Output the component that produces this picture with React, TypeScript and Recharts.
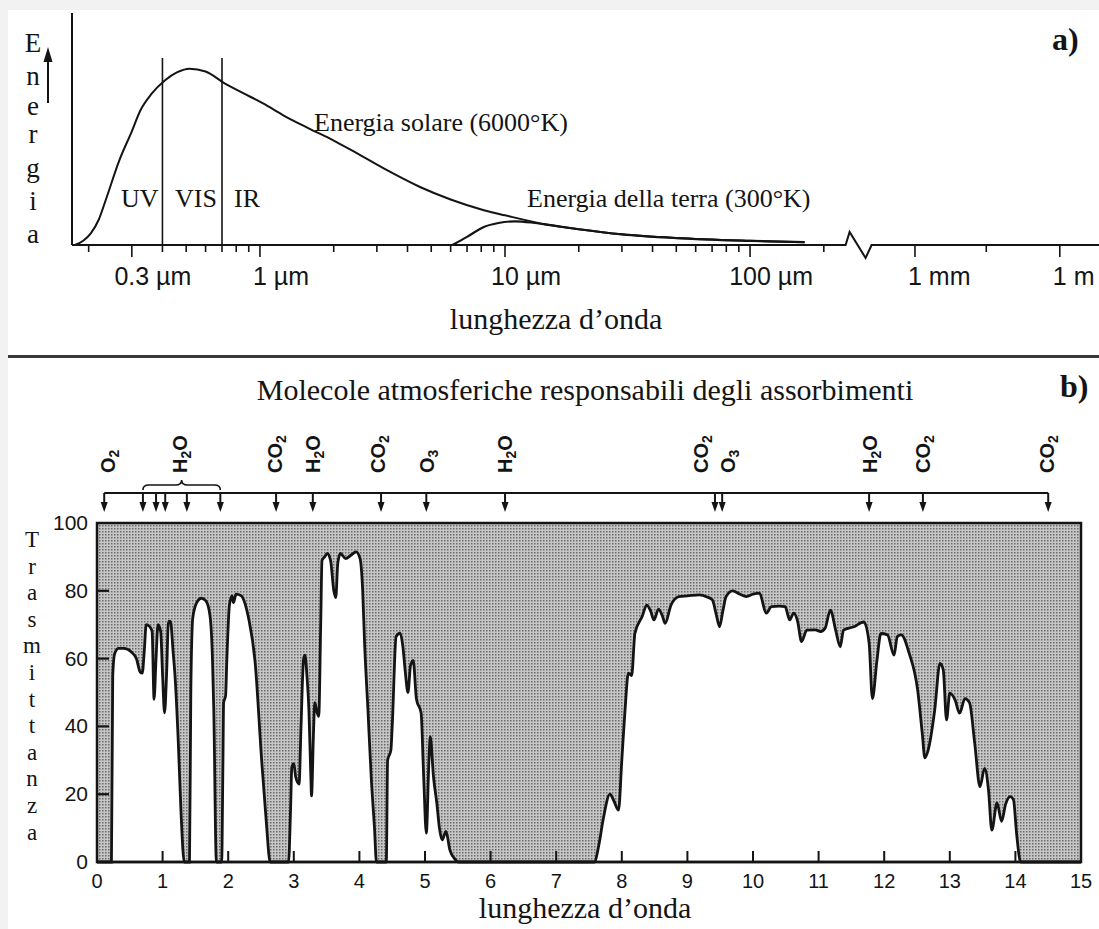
import React from 'react'
import {
  ComposedChart,
  Line,
  Area,
  XAxis,
  YAxis,
  CartesianGrid,
  ReferenceLine,
  ReferenceDot,
  ReferenceArea,
} from 'recharts'

// ---------- pannello a) : lunghezza d'onda in µm, energia in unità relative
const solarLambda = [0.176, 0.19, 0.204, 0.22, 0.235, 0.267, 0.3, 0.325, 0.36, 0.41, 0.46, 0.516, 0.6, 0.717, 0.85, 1.03, 1.25, 1.58, 2.0, 2.35, 3.2, 4.5, 6.0, 8.2, 10, 15, 20, 30, 50, 100, 167]
const solarEnergy = [0, 1.8, 5, 11, 19.5, 36.6, 49, 58, 65, 71, 74.5, 76, 74.8, 69.7, 65.6, 61, 55.8, 50.3, 45, 41, 33, 25, 19.6, 15, 12.8, 8.7, 6.8, 4.6, 3, 1.8, 1.2]
const earthLambda = [6.1, 7, 8.2, 9.4, 11, 13, 15, 20, 30, 50, 100, 167]
const earthEnergy = [0, 3.5, 7.8, 9.5, 10.2, 9.6, 8.7, 6.8, 4.6, 3, 1.8, 1.2]

const bandLimits = [0.4, 0.7] // UV|VIS e VIS|IR
const bandTop = 80.6
const majorTicks = [0.3, 1, 10, 100, 1000, 1000000]
const majorLabels = ['0.3 µm', '1 µm', '10 µm', '100 µm', '1 mm', '1 m']
const majorNumerals = ['0.3', '1', '10', '100', '1', '1']
const minorTicks = [0.2, 0.4, 0.5, 0.6, 0.7, 0.8, 0.9, 2, 3, 4, 5, 6, 7, 8, 9, 20, 30, 40, 50, 60, 70, 80, 90, 200, 30000]

// ---------- pannello b) : trasmittanza (%) in funzione della lunghezza d'onda (µm)
const transWl = [
  0, 0.2, 0.22, 0.24, 0.27, 0.33, 0.41, 0.52, 0.6, 0.66, 0.69, 0.72, 0.75, 0.8, 0.84, 0.87, 0.9, 0.93, 0.97, 1.0,
  1.03, 1.06, 1.09, 1.12, 1.16, 1.19, 1.24, 1.28, 1.33, 1.41, 1.43, 1.46, 1.52, 1.59, 1.66, 1.72, 1.76, 1.78, 1.82, 1.9,
  1.92, 1.93, 1.96, 1.98, 2.02, 2.06, 2.08, 2.12, 2.2, 2.26, 2.31, 2.41, 2.51, 2.58, 2.64, 2.92, 2.95, 2.97, 3.0, 3.03,
  3.08, 3.11, 3.15, 3.17, 3.2, 3.23, 3.26, 3.27, 3.3, 3.32, 3.35, 3.38, 3.41, 3.43, 3.47, 3.51, 3.56, 3.61, 3.64, 3.67,
  3.71, 3.79, 3.87, 3.95, 4.01, 4.05, 4.08, 4.13, 4.18, 4.23, 4.26, 4.41, 4.43, 4.48, 4.5, 4.56, 4.62, 4.66, 4.7, 4.74,
  4.78, 4.82, 4.87, 4.94, 4.98, 5.02, 5.06, 5.08, 5.13, 5.18, 5.22, 5.26, 5.32, 5.38, 5.45, 5.51, 7.58, 7.65, 7.72, 7.82,
  7.88, 7.95, 8.0, 8.05, 8.1, 8.15, 8.2, 8.31, 8.38, 8.44, 8.49, 8.56, 8.62, 8.66, 8.75, 8.87, 9.0, 9.18, 9.3, 9.38,
  9.44, 9.49, 9.54, 9.59, 9.69, 9.8, 9.9, 10.0, 10.1, 10.2, 10.28, 10.4, 10.49, 10.56, 10.62, 10.68, 10.74, 10.82, 10.95, 11.03,
  11.1, 11.18, 11.26, 11.33, 11.38, 11.54, 11.69, 11.77, 11.82, 11.89, 11.95, 12.05, 12.15, 12.2, 12.26, 12.38, 12.51, 12.58, 12.62, 12.67,
  12.77, 12.85, 12.9, 12.95, 13.0, 13.08, 13.15, 13.23, 13.3, 13.38, 13.46, 13.53, 13.59, 13.64, 13.72, 13.79, 13.85, 13.92, 13.97, 14.02,
  14.08, 15,
]
const transVal = [
  0, 0, 0, 55, 61.5, 63, 63, 62, 60, 56, 55.7, 62, 70, 69.5, 68, 48, 60, 70, 68, 55,
  44, 55, 71, 71, 62, 54.7, 35, 15, 0, 0, 50, 72, 76.5, 77.8, 77, 73, 60, 45, 0, 0,
  30, 47, 49, 60, 76, 78.5, 76.5, 79, 78.5, 76, 72, 59, 30, 12, 0, 0, 15, 28, 29, 25,
  23, 40, 60, 61, 55, 45, 25, 19.5, 38, 47, 44.5, 43, 70, 89, 90, 91, 89, 80, 78, 88,
  91, 89.5, 90.5, 91.5, 89.5, 80, 64, 45, 25, 10, 0, 0, 30, 33, 40, 66.5, 67.5, 64, 56, 50,
  58, 59.5, 48, 44, 25, 8.5, 30, 37, 25, 17.4, 10, 6.5, 9, 3.5, 1, 0, 0, 5, 13, 20,
  18, 15.3, 30, 45, 55.7, 55, 67.5, 72.4, 75.8, 74, 71.4, 74.6, 72.5, 70.4, 75.8, 78.3, 78.5, 78.8, 78.2, 77.3,
  73, 69.4, 74, 78.3, 80, 79, 78.3, 79, 79.3, 73.4, 75.3, 75.5, 75.3, 71.4, 73.4, 71, 65, 68.4, 68.5, 68,
  69, 74.3, 68.4, 63.5, 68.4, 69.4, 70.8, 64.6, 48.2, 59.6, 67.4, 67, 61, 66.5, 67, 61.6, 50.7, 38, 30.7, 33,
  44.8, 58.6, 56.7, 41.9, 49.8, 47.8, 43.9, 48.2, 47, 35, 22.2, 27.6, 21.2, 9.4, 17.4, 12, 17, 19.3, 18.4, 8,
  0, 0,
]

const arrowWl = [0.11, 0.7, 0.9, 1.04, 1.37, 1.88, 2.73, 3.29, 4.33, 5.02, 6.22, 9.42, 9.53, 11.77, 12.59, 14.5]
const moleculeWl = [0.17, 1.27, 2.71, 3.29, 4.28, 5.03, 6.22, 9.21, 9.62, 11.78, 12.59, 14.48]
const moleculeName = ['O2', 'H2O', 'CO2', 'H2O', 'CO2', 'O3', 'H2O', 'CO2', 'O3', 'H2O', 'CO2', 'CO2']
const waterBand = [0.7, 1.88]
const transTicksY = [0, 20, 40, 60, 80, 100]
const transTicksX = [0, 1, 2, 3, 4, 5, 6, 7, 8, 9, 10, 11, 12, 13, 14, 15]

const SERIF = '"Liberation Serif", "DejaVu Serif", serif'
const SANS = '"Liberation Sans", Arial, sans-serif'
const INK = '#141414'

// asse logaritmico con interruzione dopo ~300 µm (la parte mm-m è compressa)
const POS_MIN = -0.767
const POS_MAX = 3.424
const BREAK_POS = 2.443
const BREAK_HALF = 0.05
function toPos(um: number) {
  const l = Math.log10(um)
  return um <= 300 ? l : 2.673 + (l - 3) * 0.197
}

const solarData = solarLambda.map((l, i) => ({ pos: toPos(l), e: solarEnergy[i] }))
const earthData = earthLambda.map((l, i) => ({ pos: toPos(l), e: earthEnergy[i] }))
const majorPos = majorTicks.map(toPos)
const allTickPos = [...majorPos, ...minorTicks.map(toPos)]

const transData = transWl.map((w, i) => ({ w, t: transVal[i] }))

function EnergyTick(props: any) {
  const { x, y, payload } = props
  const idx = majorPos.findIndex(p => Math.abs(p - payload.value) < 1e-6)
  const major = idx >= 0
  const numW = major ? majorNumerals[idx].replace('.', '').length * 13.9 + (majorNumerals[idx].includes('.') ? 7 : 0) : 0
  return (
    <g>
      <line x1={x} x2={x} y1={y} y2={y + (major ? 12 : 7)} stroke={INK} strokeWidth={1.6} />
      {major && (
        <text x={x - numW / 2} y={y + 40} fontFamily={SANS} fontSize={25} fill={INK} textAnchor="start">
          {majorLabels[idx]}
        </text>
      )}
    </g>
  )
}

function WlTick(props: any) {
  const { x, y, payload } = props
  const v = payload.value
  return (
    <g>
      {v > 0 && v < 15 && <line x1={x} x2={x} y1={y} y2={y - 11} stroke={INK} strokeWidth={2} />}
      <text x={x} y={y + 26} fontFamily={SANS} fontSize={20} fill={INK} textAnchor="middle">
        {v}
      </text>
    </g>
  )
}

function TLeftTick(props: any) {
  const { x, y, payload } = props
  const v = payload.value
  return (
    <g>
      {v > 0 && v < 100 && <line x1={x} x2={x + 12} y1={y} y2={y} stroke={INK} strokeWidth={2.2} />}
      <text x={x - 9} y={y + 7} fontFamily={SANS} fontSize={21} fill={INK} textAnchor="end">
        {v}
      </text>
    </g>
  )
}

function TRightTick(props: any) {
  const { x, y } = props
  return <line x1={x} x2={x - 9} y1={y} y2={y} stroke={INK} strokeWidth={2.2} />
}

function Formula({ name, x, y }: { name: string; x: number; y: number }) {
  const parts = name.split(/(\d)/).filter(Boolean)
  return (
    <text x={x} y={y} transform={`rotate(-90 ${x} ${y})`} fontFamily={SANS} fontWeight="bold" fontSize={20} fill={INK}>
      {parts.map((p, i) =>
        /\d/.test(p) ? (
          <tspan key={i} dy={4} fontSize={14}>{p}</tspan>
        ) : (
          <tspan key={i} dy={i > 0 ? -4 : 0}>{p}</tspan>
        ),
      )}
    </text>
  )
}

function EnergyChart() {
  return (
    <ComposedChart width={1099} height={357} margin={{ top: 13, right: 0, bottom: 82, left: 52 }}>
      <XAxis
        type="number"
        dataKey="pos"
        domain={[POS_MIN, POS_MAX]}
        ticks={allTickPos}
        interval={0}
        tick={(p: any) => <EnergyTick {...p} />}
        tickLine={false}
        axisLine={false}
        tickSize={0}
        tickMargin={0}
        height={30}
      />
      <YAxis type="number" domain={[0, 100]} width={20} tick={false} tickLine={false} axisLine={{ stroke: INK, strokeWidth: 2 }} />
      <ReferenceLine segment={[{ x: POS_MIN, y: 0 }, { x: BREAK_POS - BREAK_HALF, y: 0 }]} stroke={INK} strokeWidth={2} />
      <ReferenceLine segment={[{ x: BREAK_POS + BREAK_HALF, y: 0 }, { x: POS_MAX, y: 0 }]} stroke={INK} strokeWidth={2} />
      <ReferenceDot
        x={BREAK_POS}
        y={0}
        r={0}
        ifOverflow="visible"
        shape={(p: any) => (
          <polyline
            points={`${p.cx - 13},${p.cy} ${p.cx - 9},${p.cy - 13} ${p.cx + 7},${p.cy + 13} ${p.cx + 13},${p.cy}`}
            fill="none"
            stroke={INK}
            strokeWidth={2}
          />
        )}
      />
      {bandLimits.map(b => (
        <ReferenceLine key={b} segment={[{ x: toPos(b), y: 0 }, { x: toPos(b), y: bandTop }]} stroke={INK} strokeWidth={1.6} />
      ))}
      <Line data={earthData} dataKey="e" type="monotone" stroke={INK} strokeWidth={2.2} dot={false} isAnimationActive={false} />
      <Line data={solarData} dataKey="e" type="monotone" stroke={INK} strokeWidth={2} dot={false} isAnimationActive={false} />
    </ComposedChart>
  )
}

function TransmittanceChart() {
  return (
    <ComposedChart width={1099} height={572} data={transData} margin={{ top: 166, right: 8, bottom: 37, left: 57 }}>
      <defs>
        <pattern id="retino" width="3" height="3" patternUnits="userSpaceOnUse">
          <rect width="3" height="3" fill="#c6c6c6" />
          <rect width="1.5" height="1.5" fill="#6a6a6a" />
        </pattern>
      </defs>
      <CartesianGrid horizontal={false} vertical={false} fill="url(#retino)" fillOpacity={1} />
      <XAxis
        type="number"
        dataKey="w"
        domain={[0, 15]}
        ticks={transTicksX}
        interval={0}
        tick={(p: any) => <WlTick {...p} />}
        tickLine={false}
        axisLine={false}
        tickSize={0}
        tickMargin={0}
        height={30}
      />
      <YAxis
        type="number"
        domain={[0, 100]}
        ticks={transTicksY}
        interval={0}
        width={40}
        tick={(p: any) => <TLeftTick {...p} />}
        tickLine={false}
        axisLine={false}
        tickSize={0}
        tickMargin={0}
      />
      <YAxis
        yAxisId="r"
        orientation="right"
        type="number"
        domain={[0, 100]}
        ticks={[20, 40, 60, 80]}
        interval={0}
        width={10}
        tick={(p: any) => <TRightTick {...p} />}
        tickLine={false}
        axisLine={false}
        tickSize={0}
        tickMargin={0}
      />
      <Area dataKey="t" type="monotone" stroke={INK} strokeWidth={2.8} fill="#ffffff" fillOpacity={1} baseValue={0} isAnimationActive={false} />
      <ReferenceArea x1={0} x2={15} y1={0} y2={100} fill="none" fillOpacity={0} stroke={INK} strokeWidth={2.5} />
      <ReferenceLine y={0} stroke={INK} strokeWidth={2.5} />
      <ReferenceLine
        segment={[{ x: arrowWl[0], y: 100 }, { x: arrowWl[arrowWl.length - 1], y: 100 }]}
        ifOverflow="visible"
        shape={(p: any) => <line x1={p.x1} y1={p.y1 - 30} x2={p.x2} y2={p.y2 - 30} stroke={INK} strokeWidth={2} />}
      />
      <ReferenceLine
        segment={[{ x: waterBand[0], y: 100 }, { x: waterBand[1], y: 100 }]}
        ifOverflow="visible"
        shape={(p: any) => {
          const y = p.y1 - 33
          const m = (p.x1 + p.x2) / 2
          const d = `M${p.x1},${y} Q${p.x1},${y - 5} ${p.x1 + 6},${y - 5} L${m - 6},${y - 5} Q${m},${y - 5} ${m},${y - 10} Q${m},${y - 5} ${m + 6},${y - 5} L${p.x2 - 6},${y - 5} Q${p.x2},${y - 5} ${p.x2},${y}`
          return <path d={d} fill="none" stroke={INK} strokeWidth={1.6} />
        }}
      />
      {arrowWl.map((w, i) => (
        <ReferenceDot
          key={`a${i}`}
          x={w}
          y={100}
          r={0}
          ifOverflow="visible"
          shape={(p: any) => (
            <g>
              <line x1={p.cx} x2={p.cx} y1={p.cy - 30} y2={p.cy - 19} stroke={INK} strokeWidth={2} />
              <polygon points={`${p.cx - 3.5},${p.cy - 21} ${p.cx + 3.5},${p.cy - 21} ${p.cx},${p.cy - 11}`} fill={INK} />
            </g>
          )}
        />
      ))}
      {moleculeWl.map((w, i) => (
        <ReferenceDot
          key={`m${i}`}
          x={w}
          y={100}
          r={0}
          ifOverflow="visible"
          shape={(p: any) => <Formula name={moleculeName[i]} x={p.cx + 7} y={p.cy - 50} />}
        />
      ))}
    </ComposedChart>
  )
}

const energiaLetters = ['E', 'n', 'e', 'r', 'g', 'i', 'a']
const energiaBase = [52, 85, 115, 143, 177, 210, 243]
const trasmLetters = ['T', 'r', 'a', 's', 'm', 'i', 't', 't', 'a', 'n', 'z', 'a']

function Annotations() {
  return (
    <svg width={1099} height={929} style={{ position: 'absolute', left: 0, top: 0, pointerEvents: 'none' }}>
      <g fontFamily={SERIF} fill={INK}>
        {energiaLetters.map((c, i) => (
          <text key={`e${i}`} x={33} y={energiaBase[i]} fontSize={27} textAnchor="middle">{c}</text>
        ))}
        <line x1={48} x2={48} y1={103} y2={60} stroke={INK} strokeWidth={2} />
        <polygon points="43.5,62 52.5,62 48,47" fill={INK} />
        <text x={1052} y={50} fontSize={32} fontWeight="bold">a)</text>
        <text x={121} y={207} fontSize={26}>UV</text>
        <text x={175} y={207} fontSize={26}>VIS</text>
        <text x={234} y={207} fontSize={26}>IR</text>
        <text x={314} y={131} fontSize={26}>Energia solare (6000°K)</text>
        <text x={527} y={207} fontSize={26}>Energia della terra (300°K)</text>
        <text x={556} y={329} fontSize={30} textAnchor="middle">lunghezza d’onda</text>

        <rect x={8} y={355} width={1091} height={3} fill="#3a3a3a" />

        <text x={585} y={400} fontSize={30} textAnchor="middle">Molecole atmosferiche responsabili degli assorbimenti</text>
        <text x={1060} y={397} fontSize={32} fontWeight="bold">b)</text>
        {trasmLetters.map((c, i) => (
          <text key={`t${i}`} x={32} y={547 + i * 26.6} fontSize={23} textAnchor="middle">{c}</text>
        ))}
        <text x={585} y={918} fontSize={30} textAnchor="middle">lunghezza d’onda</text>
      </g>
    </svg>
  )
}

export default function App() {
  return (
    <div style={{ position: 'absolute', left: 0, top: 0, width: 1099, height: 929, background: '#f2f2f2', overflow: 'hidden' }}>
      <div style={{ position: 'absolute', left: 8, top: 10, width: 1091, height: 919, background: '#ffffff' }} />
      <div style={{ position: 'absolute', left: 0, top: 0 }}>
        <EnergyChart />
      </div>
      <div style={{ position: 'absolute', left: 0, top: 357 }}>
        <TransmittanceChart />
      </div>
      <Annotations />
    </div>
  )
}
